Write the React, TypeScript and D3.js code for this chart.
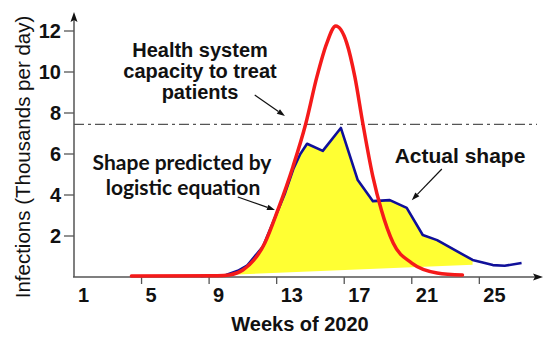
import React from "react";
import * as d3 from "d3";

// week ticks / labels along the bottom
const weekTicks = [5, 9, 13, 17, 21, 25];
const weekLabels = [1, 5, 9, 13, 17, 21, 25];
const valueTicks = [2, 4, 6, 8, 10, 12];

// curve predicted by the logistic equation
const predictedWeeks = [4.4, 9.5, 10.2, 11.0, 12.3, 13.07, 13.96, 14.73, 15.38, 15.97, 16.5, 17.15, 17.63, 18.1, 18.7, 19.2, 19.9, 21.0, 22.5, 24.0];
const predictedValues = [0.05, 0.06, 0.1, 0.34, 1.66, 3.27, 5.37, 7.5, 9.76, 11.41, 12.24, 11.41, 9.76, 7.5, 4.88, 3.27, 1.66, 0.68, 0.2, 0.1];

// actual infections
const actualWeeks = [8.5, 10.0, 10.7, 11.24, 12.2, 13.0, 13.5, 14.0, 14.4, 14.8, 15.73, 16.8, 17.8, 18.7, 19.7, 20.7, 21.65, 22.5, 24.6, 25.8, 26.5, 27.5];
const actualValues = [0.05, 0.1, 0.3, 0.55, 1.5, 3.1, 4.1, 5.3, 6.0, 6.5, 6.15, 7.27, 4.73, 3.7, 3.75, 3.37, 2.05, 1.8, 0.83, 0.58, 0.55, 0.68];

// sloped floor of the yellow area
const floorWeeks = [10.0, 24.6];
const floorValues = [0.1, 0.6];

const capacityLevel = 7.45;

type Pt = { week: number; value: number };
const zip = (w: number[], v: number[]): Pt[] => w.map((week, i) => ({ week, value: v[i] }));

const predicted = zip(predictedWeeks, predictedValues);
const actual = zip(actualWeeks, actualValues);
const floor = zip(floorWeeks, floorValues);

const W = 550;
const H = 340;
const x = d3.scaleLinear().domain([1, 28]).range([74, 530]);
const y = d3.scaleLinear().domain([0, 12]).range([277, 31]);

const axisColor = "#555";
const arial = "'Liberation Sans', Arial, sans-serif";

function Arrow({ x1, y1, x2, y2, w = 1.2, head = 8 }: any) {
  const a = Math.atan2(y2 - y1, x2 - x1);
  const hw = head * 0.35;
  const bx = x2 - head * Math.cos(a);
  const by = y2 - head * Math.sin(a);
  const p1 = [bx + hw * Math.sin(a), by - hw * Math.cos(a)];
  const p2 = [bx - hw * Math.sin(a), by + hw * Math.cos(a)];
  return (
    <g>
      <line x1={x1} y1={y1} x2={bx} y2={by} stroke="#111" strokeWidth={w} />
      <path d={`M${x2},${y2}L${p1[0]},${p1[1]}L${p2[0]},${p2[1]}Z`} fill="#111" />
    </g>
  );
}

export default function App() {
  const line = d3
    .line<Pt>()
    .x((d) => x(d.week))
    .y((d) => y(d.value));
  const redPath = line.curve(d3.curveMonotoneX)(predicted) || "";
  const straight = d3
    .line<Pt>()
    .x((d) => x(d.week))
    .y((d) => y(d.value));
  const bluePath = straight(actual) || "";

  const inside = actual.filter((d) => d.week >= floorWeeks[0] && d.week <= floorWeeks[1]);
  const yellowPts = [...inside, ...floor.slice().reverse()];
  const yellowPath = straight(yellowPts) + "Z";

  const x0 = x(1);
  const y0 = y(0);

  return (
    <div style={{ position: "absolute", left: 0, top: 0 }}>
      <svg width={W} height={H} style={{ display: "block", background: "#fff" }}>
        {/* yellow area */}
        <path d={yellowPath} fill="#ffff33" stroke="none" />

        {/* capacity line */}
        <line
          x1={x0}
          x2={537}
          y1={y(capacityLevel)}
          y2={y(capacityLevel)}
          stroke="#555"
          strokeWidth={1.2}
          strokeDasharray="10,4,3,4"
        />

        {/* axes */}
        <line x1={x0 - 1} x2={536} y1={y0} y2={y0} stroke={axisColor} strokeWidth={1.5} />
        <path d={`M543,${y0}L533,${y0 - 3.5}L535,${y0}L533,${y0 + 3.5}Z`} fill="#111" />
        <line x1={x0} x2={x0} y1={y0} y2={20} stroke={axisColor} strokeWidth={1.5} />
        <path d={`M${x0},12L${x0 - 3.5},22L${x0},20L${x0 + 3.5},22Z`} fill="#111" />

        {weekTicks.map((t) => (
          <line key={t} x1={x(t)} x2={x(t)} y1={y0} y2={y0 + 7} stroke={axisColor} strokeWidth={1.3} />
        ))}
        {weekLabels.map((t) => (
          <text key={t} x={x(t) + 4} y={302} fontFamily={arial} fontWeight="bold" fontSize={20} fill="#111">
            {t}
          </text>
        ))}
        {valueTicks.map((t) => (
          <g key={t}>
            <line x1={x0 - 10} x2={x0} y1={y(t)} y2={y(t)} stroke={axisColor} strokeWidth={1.3} />
            <text x={61} y={y(t) + 7} textAnchor="end" fontFamily={arial} fontWeight="bold" fontSize={20} fill="#111">
              {t}
            </text>
          </g>
        ))}

        <text x={300} y={331} textAnchor="middle" fontFamily={arial} fontWeight="bold" fontSize={20} fill="#111">
          Weeks of 2020
        </text>
        <text
          transform="translate(30,157) rotate(-90)"
          textAnchor="middle"
          fontFamily={arial}
          fontSize={20.5}
          fill="#111"
        >
          Infections (Thousands per day)
        </text>

        {/* curves */}
        <path d={bluePath} fill="none" stroke="#10109a" strokeWidth={2.6} strokeLinejoin="round" />
        <path d={redPath} fill="none" stroke="#f51a1a" strokeWidth={3.5} strokeLinecap="round" />

        {/* annotations */}
        <g fontFamily={arial} fontWeight="bold" fontSize={20} fill="#111" textAnchor="middle">
          <text x={200} y={57}>Health system</text>
          <text x={200} y={78}>capacity to treat</text>
          <text x={200} y={99}>patients</text>
        </g>
        <text x={460} y={163} fontFamily={arial} fontWeight="bold" fontSize={21} fill="#111" textAnchor="middle">
          Actual shape
        </text>
        <g fontFamily="Lato, 'Open Sans', sans-serif" fontWeight="bold" fontSize={21} fill="#111" textAnchor="middle">
          <text x={182} y={170}>Shape predicted by</text>
          <text x={183} y={195}>logistic equation</text>
        </g>
        <Arrow x1={x(11.7)} y1={y(8.88)} x2={x(13.49)} y2={y(7.85)} />
        <Arrow x1={x(10.7)} y1={y(3.9)} x2={x(12.9)} y2={y(3.27)} />
        <Arrow x1={x(22.78)} y1={y(5.27)} x2={x(21.0)} y2={y(3.75)} />
      </svg>
    </div>
  );
}
